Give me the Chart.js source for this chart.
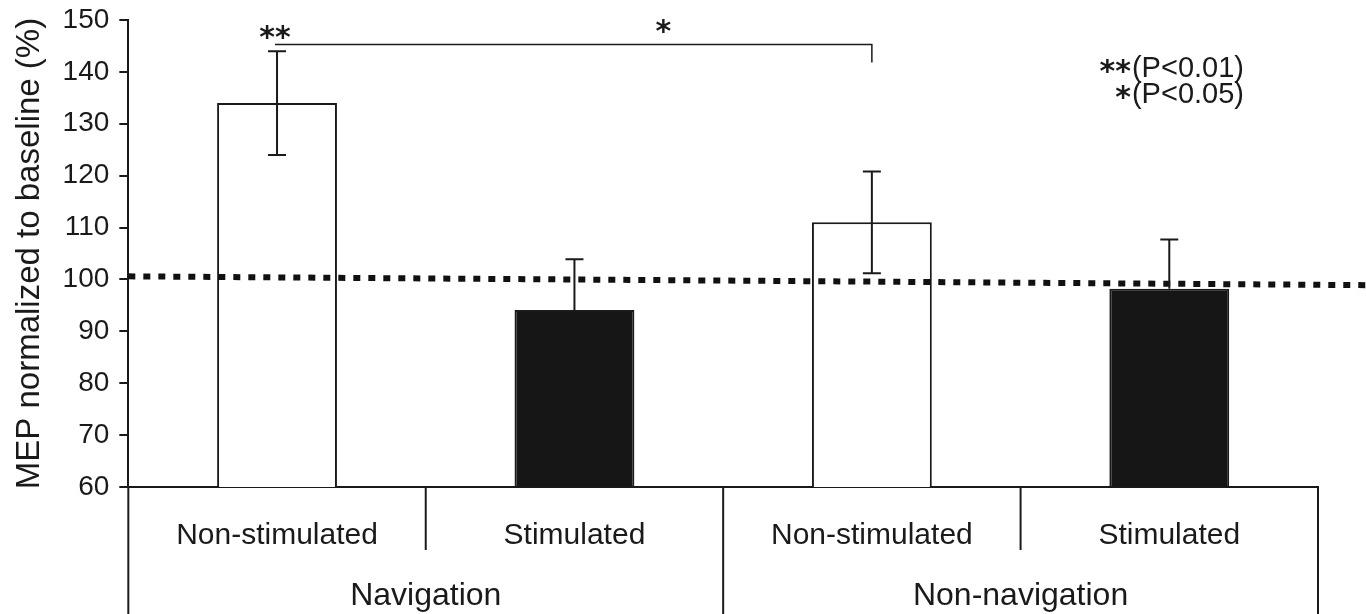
<!DOCTYPE html>
<html>
<head>
<meta charset="utf-8">
<script src="https://cdn.jsdelivr.net/npm/chart.js@4.4.1/dist/chart.umd.min.js"></script>
<style>
  body { margin: 0; background: #fff; }
  #wrap { width: 1366px; height: 614px; }
</style>
</head>
<body>
<div id="wrap"><canvas id="grafico" width="1366" height="614"></canvas></div>
<script>
// dados
const categories = ['Non-stimulated', 'Stimulated', 'Non-stimulated', 'Stimulated'];
const groups = ['Navigation', 'Non-navigation'];
const meanValues = [134, 94.1, 111, 98.2];
const errorValues = [10, 9.8, 9.8, 9.5];
const barColors = ['#ffffff', '#161616', '#ffffff', '#161616'];
const yMin = 60;
const yMax = 150;
const yStep = 10;
const baselineValues = [100.6, 98.9];   // linha pontilhada (inicio, fim)
const bracketValues = [145.3, 141.8];   // colchete de significancia (topo, fim)
const sigMarks = ['**', '*'];
const legendLines = [['**', '(P<0.01)'], ['*', '(P<0.05)']];

const ink = '#1a1a1a';
const fontFam = "'Liberation Sans', Arial, Helvetica, sans-serif";
const starFont = "bold 30px 'DejaVu Sans', sans-serif";
Chart.defaults.font.family = fontFam;
Chart.defaults.color = ink;

// barras de erro, linha de base, colchete e rotulos agrupados
const extras = {
    id: 'extras',
    afterDatasetsDraw(chart) {
        const ctx = chart.ctx;
        const x = chart.scales.x;
        const y = chart.scales.y;
        const area = chart.chartArea;
        ctx.save();

        // linha pontilhada
        ctx.strokeStyle = '#111';
        ctx.lineWidth = 6;
        ctx.setLineDash([7, 8]);
        ctx.beginPath();
        ctx.moveTo(area.left, y.getPixelForValue(baselineValues[0]));
        ctx.lineTo(chart.width, y.getPixelForValue(baselineValues[1]));
        ctx.stroke();
        ctx.setLineDash([]);

        // barras de erro (parte de baixo so aparece nas barras brancas)
        ctx.strokeStyle = ink;
        ctx.lineWidth = 2;
        meanValues.forEach((v, i) => {
            const cx = x.getPixelForValue(i);
            const mid = y.getPixelForValue(v);
            const top = y.getPixelForValue(v + errorValues[i]);
            const bot = y.getPixelForValue(v - errorValues[i]);
            const light = barColors[i] === '#ffffff';
            ctx.beginPath();
            ctx.moveTo(cx, top);
            ctx.lineTo(cx, light ? bot : mid);
            ctx.moveTo(cx - 9, top);
            ctx.lineTo(cx + 9, top);
            if (light) {
                ctx.moveTo(cx - 9, bot);
                ctx.lineTo(cx + 9, bot);
            }
            ctx.stroke();
        });

        // colchete
        const bx0 = x.getPixelForValue(0) - 2;
        const bx1 = x.getPixelForValue(2);
        const by = y.getPixelForValue(bracketValues[0]);
        ctx.lineWidth = 1.5;
        ctx.beginPath();
        ctx.moveTo(bx0, by);
        ctx.lineTo(bx1, by);
        ctx.lineTo(bx1, y.getPixelForValue(bracketValues[1]));
        ctx.stroke();

        ctx.fillStyle = ink;
        ctx.font = starFont;
        ctx.textAlign = 'center';
        ctx.textBaseline = 'alphabetic';
        ctx.fillText(sigMarks[0], x.getPixelForValue(0) - 2, by + 3);
        ctx.fillText(sigMarks[1], (bx0 + bx1) / 2 + 90, by - 3);

        // legenda P
        ctx.textAlign = 'right';
        legendLines.forEach((ln, i) => {
            const base = 77 + i * 26;
            ctx.font = '29px ' + fontFam;
            ctx.fillText(ln[1], 1244, base);
            const w = ctx.measureText(ln[1]).width;
            ctx.font = starFont;
            ctx.fillText(ln[0], 1244 - w - 1, base + 4);
        });

        // separadores do eixo x
        const step = (area.right - area.left) / categories.length;
        ctx.lineWidth = 2;
        for (let i = 0; i <= categories.length; i++) {
            const sx = area.left + i * step;
            ctx.beginPath();
            ctx.moveTo(sx, area.bottom);
            ctx.lineTo(sx, i % 2 === 0 ? chart.height : area.bottom + 63);
            ctx.stroke();
        }

        // rotulos de grupo
        ctx.textAlign = 'center';
        ctx.font = '32px ' + fontFam;
        groups.forEach((g, i) => {
            const gx = area.left + (i * 2 + 1) * step;
            ctx.fillText(g, gx, 605);
        });
        ctx.restore();
    }
};

const ctxBarra = document.getElementById('grafico').getContext('2d');
const grafico = new Chart(ctxBarra, {
    type: 'bar',
    data: {
        labels: categories,
        datasets: [{
            data: meanValues,
            backgroundColor: barColors,
            borderColor: ink,
            borderWidth: 2,
            borderSkipped: 'bottom',
            categoryPercentage: 1,
            barPercentage: 0.403
        }]
    },
    options: {
        responsive: false,
        animation: false,
        layout: {
            padding: { top: 20, right: 48, bottom: 29, left: 0 }
        },
        plugins: {
            legend: { display: false },
            tooltip: { enabled: false }
        },
        scales: {
            x: {
                grid: { display: false, drawTicks: false },
                border: { display: true, color: ink, width: 2 },
                ticks: { font: { size: 30 }, color: ink, padding: 31, maxRotation: 0 }
            },
            y: {
                min: yMin,
                max: yMax,
                ticks: { stepSize: yStep, font: { size: 28, lineHeight: 0.5 }, color: ink, padding: 10 },
                grid: { drawOnChartArea: false, drawTicks: true, tickLength: 9, color: ink, lineWidth: 2 },
                border: { color: ink, width: 2 },
                title: {
                    display: true,
                    text: 'MEP normalized to baseline (%)',
                    font: { size: 33 },
                    color: ink,
                    padding: { top: 10, bottom: 3 }
                }
            }
        }
    },
    plugins: [extras]
});
</script>
</body>
</html>
